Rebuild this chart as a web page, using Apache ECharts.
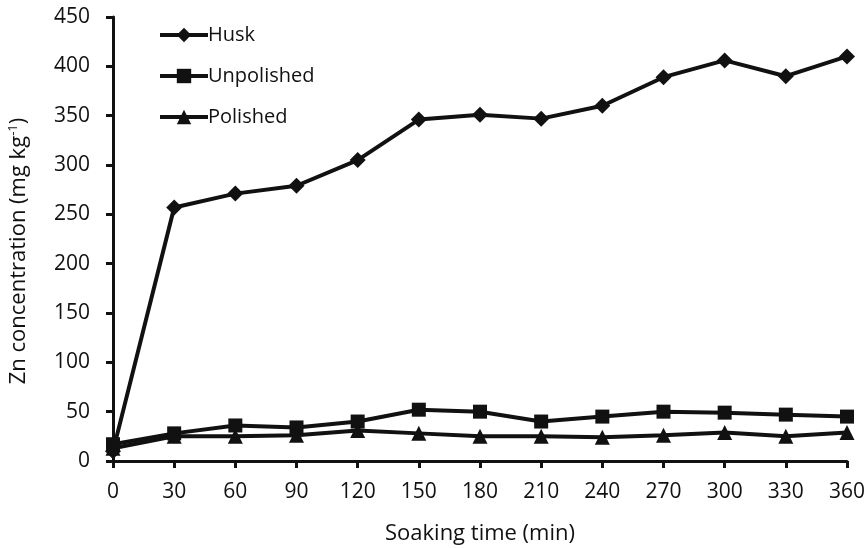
<!DOCTYPE html>
<html><head><meta charset="utf-8">
<script src="https://cdn.jsdelivr.net/npm/echarts@6/dist/echarts.min.js"></script>
<style>html,body{margin:0;padding:0;background:#fff}#c{width:868px;height:548px}</style>
</head><body><div id="c"></div>
<script>
const times = [0,30,60,90,120,150,180,210,240,270,300,330,360];
const husk = [10,257,271,279,305,346,351,347,360,389,406,390,410];
const unpolished = [17,28,36,34,40,52,50,40,45,50,49,47,45];
const polished = [13,25,25,26,31,28,25,25,24,26,29,25,29];
const seriesNames = ['Husk','Unpolished','Polished'];

const font = '"Open Sans", "DejaVu Sans", sans-serif';
const col = '#111';
function mk(name, vals, symbol, size){
  return {name, type:'line', data: times.map((t,i)=>[t, vals[i]]), symbol, symbolSize:size,
    lineStyle:{color:col,width:4}, itemStyle:{color:col}, z: 3};
}
const chart = echarts.init(document.getElementById('c'));
chart.setOption({
  animation:false,
  grid:{left:113,right:21,top:17,bottom:87,containLabel:false,outerBoundsMode:'none'},
  legend:{orient:'vertical',left:153,top:20,itemWidth:48,itemHeight:18,itemGap:21,
    lineStyle:{width:4,color:col}, itemStyle:{color:col},
    textStyle:{fontFamily:font,fontSize:20,color:'#111',padding:[0,0,0,-5]},
    data:seriesNames},
  xAxis:{type:'value',min:0,max:360,interval:30,
    name:'Soaking time (min)',nameLocation:'middle',nameGap:62,
    nameTextStyle:{fontFamily:font,fontSize:22,color:'#111'},
    axisLine:{show:true,lineStyle:{color:col,width:3}},
    axisTick:{show:true,length:7,lineStyle:{color:col,width:3}},
    axisLabel:{fontFamily:font,fontSize:21,color:'#111',margin:21},
    splitLine:{show:false}},
  yAxis:{type:'value',min:0,max:450,interval:50,
    name:'Zn concentration (mg kg{sup|-1})',nameLocation:'middle',nameGap:83,
    nameTextStyle:{fontFamily:font,fontSize:22,color:'#111',padding:[0,24,0,0],
      rich:{sup:{fontFamily:font,fontSize:13,verticalAlign:'top',padding:[0,0,10,0]}}},
    axisLine:{show:true,lineStyle:{color:col,width:3}},
    axisTick:{show:true,length:7,lineStyle:{color:col,width:3}},
    axisLabel:{fontFamily:font,fontSize:21,color:'#111',margin:23},
    splitLine:{show:false}},
  series:[mk('Husk',husk,'diamond',16), mk('Unpolished',unpolished,'rect',14), mk('Polished',polished,'triangle',15)]
});
</script></body></html>
